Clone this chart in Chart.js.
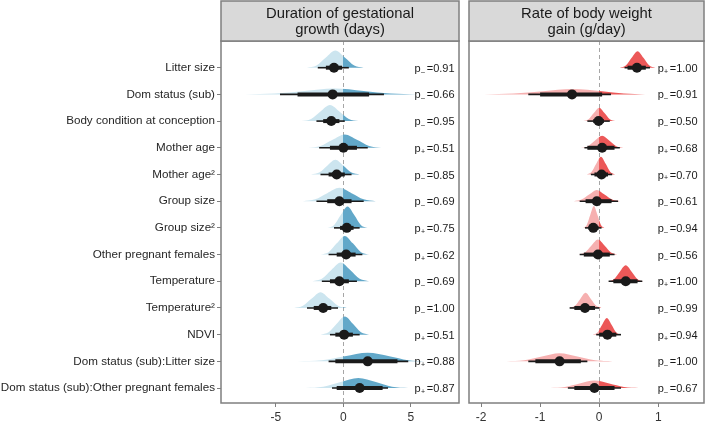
<!DOCTYPE html>
<html lang="en">
<head>
  <meta charset="UTF-8" />
  <title>Posterior effects on gestation and weight gain</title>
  <script src="https://cdn.jsdelivr.net/npm/chart.js"></script>
  <style>
    html, body { margin: 0; padding: 0; background: #fff; }
    #wrap { position: relative; width: 709px; height: 424px; overflow: hidden; }
    #leftChart { position: absolute; left: 0; top: 0; }
    #rightChart { position: absolute; left: 464px; top: 0; }
  </style>
</head>
<body>
  <div id="wrap">
    <canvas id="leftChart" width="464" height="424"></canvas>
    <canvas id="rightChart" width="245" height="424"></canvas>
  </div>

  <script>
    // row labels, top to bottom
    const categories = [
      'Litter size', 'Dom status (sub)', 'Body condition at conception', 'Mother age',
      'Mother age\u00B2', 'Group size', 'Group size\u00B2', 'Other pregnant females',
      'Temperature', 'Temperature\u00B2', 'NDVI', 'Dom status (sub):Litter size',
      'Dom status (sub):Other pregnant females'
    ];

    // --- Duration of gestational growth (days) ---
    const durTitle = ['Duration of gestational', 'growth (days)'];
    const durTicks = [-5, 0, 5];
    const durMedian = [-0.7, -0.8, -0.9, 0.0, -0.5, -0.3, 0.25, 0.2, -0.3, -1.5, 0.05, 1.8, 1.2];
    const durInner = [[-1.3, -0.1], [-3.4, 1.9], [-1.5, -0.3], [-1.0, 1.0], [-1.1, 0.1], [-1.2, 0.6], [-0.25, 0.75],
                      [-0.5, 0.9], [-1.0, 0.4], [-2.2, -0.9], [-0.6, 0.7], [-0.6, 4.0], [-0.5, 2.9]];
    const durOuter = [[-1.9, 0.4], [-4.7, 3.0], [-2.0, 0.1], [-1.8, 1.8], [-1.7, 0.6], [-2.0, 1.5], [-0.7, 1.2],
                      [-1.1, 1.4], [-1.6, 1.0], [-2.7, -0.4], [-1.0, 1.2], [-1.1, 4.8], [-0.85, 3.3]];
    // slab outlines: [x, height in row units]
    const durSlabs = [
      [[-2.7, 0], [-2.0, 0.08], [-1.3, 0.38], [-0.6, 0.64], [0.1, 0.38], [0.8, 0.08], [1.5, 0]],
      [[-7.3, 0], [-5.1, 0.03], [-2.9, 0.13], [-0.7, 0.22], [1.5, 0.13], [3.5, 0.03], [5.4, 0]],
      [[-3.1, 0], [-2.4, 0.08], [-1.7, 0.36], [-1.0, 0.6], [-0.3, 0.36], [0.4, 0.08], [1.1, 0]],
      [[-2.6, 0], [-1.7, 0.07], [-0.8, 0.3], [0.1, 0.5], [1.0, 0.3], [1.9, 0.07], [2.8, 0]],
      [[-2.4, 0], [-1.8, 0.07], [-1.2, 0.33], [-0.6, 0.55], [0.0, 0.33], [0.6, 0.07], [1.2, 0]],
      [[-3.0, 0], [-2.1, 0.07], [-1.2, 0.3], [-0.3, 0.5], [0.6, 0.3], [1.5, 0.07], [2.4, 0]],
      [[-1.2, 0], [-0.7, 0.1], [-0.2, 0.48], [0.3, 0.8], [0.8, 0.48], [1.3, 0.1], [1.8, 0]],
      [[-1.7, 0], [-1.1, 0.09], [-0.5, 0.42], [0.1, 0.7], [0.7, 0.42], [1.3, 0.09], [1.9, 0]],
      [[-2.3, 0], [-1.6, 0.09], [-0.9, 0.42], [-0.2, 0.7], [0.5, 0.42], [1.2, 0.09], [1.9, 0]],
      [[-3.65, 0], [-3.0, 0.08], [-2.35, 0.35], [-1.7, 0.59], [-1.05, 0.35], [-0.4, 0.08], [0.25, 0]],
      [[-1.7, 0], [-1.1, 0.09], [-0.5, 0.41], [0.1, 0.68], [0.7, 0.41], [1.3, 0.09], [1.9, 0]],
      [[-3.4, 0], [-1.6, 0.04], [0.1, 0.19], [1.8, 0.32], [3.4, 0.19], [4.8, 0.04], [6.0, 0]],
      [[-2.8, 0], [-1.5, 0.05], [-0.2, 0.23], [1.1, 0.38], [2.4, 0.23], [3.6, 0.05], [4.8, 0]]
    ];
    const durPSign = ['-', '-', '-', '+', '-', '-', '+', '+', '-', '-', '+', '+', '+'];
    const durPValue = ['0.91', '0.66', '0.95', '0.51', '0.85', '0.69', '0.75', '0.62', '0.69', '1.00', '0.51', '0.88', '0.87'];

    // --- Rate of body weight gain (g/day) ---
    const wgtTitle = ['Rate of body weight', 'gain (g/day)'];
    const wgtTicks = [-2, -1, 0, 1];
    const wgtMedian = [0.64, -0.46, -0.01, 0.05, 0.04, -0.04, -0.1, -0.02, 0.45, -0.24, 0.14, -0.67, -0.08];
    const wgtInner = [[0.48, 0.79], [-1.0, 0.05], [-0.1, 0.08], [-0.2, 0.26], [-0.08, 0.15], [-0.23, 0.21], [-0.18, -0.01],
                      [-0.26, 0.18], [0.24, 0.65], [-0.42, -0.07], [0.0, 0.29], [-1.08, -0.31], [-0.42, 0.26]];
    const wgtOuter = [[0.43, 0.86], [-1.2, 0.2], [-0.2, 0.18], [-0.25, 0.35], [-0.14, 0.22], [-0.33, 0.32], [-0.24, 0.04],
                      [-0.33, 0.26], [0.16, 0.73], [-0.5, 0.0], [-0.05, 0.37], [-1.2, -0.2], [-0.53, 0.37]];
    const wgtSlabs = [
      [[0.35, 0], [0.45, 0.08], [0.55, 0.37], [0.65, 0.62], [0.75, 0.37], [0.85, 0.08], [0.95, 0]],
      [[-1.95, 0], [-1.45, 0.03], [-0.95, 0.12], [-0.45, 0.2], [0.05, 0.12], [0.42, 0.03], [0.78, 0]],
      [[-0.27, 0], [-0.18, 0.07], [-0.09, 0.3], [0.0, 0.5], [0.09, 0.3], [0.18, 0.07], [0.27, 0]],
      [[-0.31, 0], [-0.19, 0.06], [-0.07, 0.27], [0.05, 0.45], [0.17, 0.27], [0.29, 0.06], [0.41, 0]],
      [[-0.21, 0], [-0.13, 0.09], [-0.05, 0.4], [0.03, 0.66], [0.11, 0.4], [0.19, 0.09], [0.27, 0]],
      [[-0.43, 0], [-0.30, 0.06], [-0.17, 0.25], [-0.04, 0.42], [0.09, 0.25], [0.22, 0.06], [0.35, 0]],
      [[-0.27, 0], [-0.21, 0.11], [-0.15, 0.49], [-0.09, 0.82], [-0.03, 0.49], [0.03, 0.11], [0.09, 0]],
      [[-0.35, 0], [-0.24, 0.08], [-0.13, 0.34], [-0.02, 0.56], [0.09, 0.34], [0.20, 0.08], [0.31, 0]],
      [[0.15, 0], [0.25, 0.08], [0.35, 0.36], [0.45, 0.6], [0.55, 0.36], [0.65, 0.08], [0.75, 0]],
      [[-0.5, 0], [-0.41, 0.08], [-0.32, 0.34], [-0.23, 0.57], [-0.14, 0.34], [-0.05, 0.08], [0.04, 0]],
      [[-0.11, 0], [-0.03, 0.08], [0.05, 0.37], [0.13, 0.62], [0.21, 0.37], [0.29, 0.08], [0.37, 0]],
      [[-1.57, 0], [-1.27, 0.04], [-0.97, 0.18], [-0.67, 0.3], [-0.37, 0.18], [-0.07, 0.04], [0.23, 0]],
      [[-0.83, 0], [-0.58, 0.04], [-0.33, 0.17], [-0.08, 0.28], [0.17, 0.17], [0.42, 0.04], [0.67, 0]]
    ];
    const wgtPSign = ['+', '-', '-', '+', '+', '-', '-', '-', '+', '-', '+', '-', '-'];
    const wgtPValue = ['1.00', '0.91', '0.50', '0.68', '0.70', '0.61', '0.94', '0.56', '1.00', '0.99', '0.94', '1.00', '0.67'];

    const FONT = "'Liberation Sans', Arial, sans-serif";
    const INK = '#1a1a1a';
    const FRAME = '#7f7f7f';

    // strip on top, dashed zero line, panel border, p labels
    const panelDecor = {
      id: 'panelDecor',
      beforeDatasetsDraw(chart, args, opts) {
        const { ctx, chartArea: a, scales: { x } } = chart;
        const zx = Math.round(x.getPixelForValue(0)) + 0.5;
        ctx.save();
        ctx.strokeStyle = '#a6a6a6';
        ctx.lineWidth = 1;
        ctx.setLineDash([4, 3]);
        ctx.beginPath();
        ctx.moveTo(zx, a.top);
        ctx.lineTo(zx, a.bottom);
        ctx.stroke();
        ctx.restore();
      },
      afterDatasetsDraw(chart, args, opts) {
        const { ctx, chartArea: a, scales: { x, y } } = chart;
        ctx.save();
        // p labels
        ctx.fillStyle = INK;
        ctx.textBaseline = 'middle';
        ctx.textAlign = 'left';
        opts.pValue.forEach((v, i) => {
          const px = x.getPixelForValue(opts.pAt);
          const py = y.getPixelForValue(i + 1) + 1;
          ctx.font = '11px ' + FONT;
          ctx.fillText('p', px, py);
          const pw = ctx.measureText('p').width;
          ctx.font = '7px ' + FONT;
          ctx.fillText(opts.pSign[i] === '+' ? '+' : '\u2013', px + pw + 0.3, py + 3);
          ctx.font = '11px ' + FONT;
          ctx.fillText('=' + v, px + pw + 6, py);
        });
        // panel frame
        ctx.strokeStyle = FRAME;
        ctx.lineWidth = 1.5;
        ctx.strokeRect(a.left, a.top, a.right - a.left, a.bottom - a.top);
        // strip
        ctx.fillStyle = '#d9d9d9';
        ctx.fillRect(a.left, 1, a.right - a.left, a.top - 1);
        ctx.strokeRect(a.left, 1, a.right - a.left, a.top - 1);
        ctx.fillStyle = INK;
        ctx.textAlign = 'center';
        ctx.font = '14.8px ' + FONT;
        const cx = (a.left + a.right) / 2;
        ctx.fillText(opts.title[0], cx, 14);
        ctx.fillText(opts.title[1], cx, 30);
        ctx.restore();
      }
    };

    function makePanel(id, cfg) {
      let grad = null;
      const slabFill = (c) => {
        const chart = c.chart;
        const a = chart.chartArea;
        if (!a || !chart.scales.x) return cfg.light;
        if (grad) return grad;
        const f = (chart.scales.x.getPixelForValue(0) - a.left) / (a.right - a.left);
        grad = chart.ctx.createLinearGradient(a.left, 0, a.right, 0);
        grad.addColorStop(0, cfg.light);
        grad.addColorStop(f, cfg.light);
        grad.addColorStop(f, cfg.dark);
        grad.addColorStop(1, cfg.dark);
        return grad;
      };

      // higher order is drawn first (underneath)
      const datasets = [];
      cfg.slabs.forEach((pts, i) => {
        const row = i + 1;
        datasets.push({
          order: 3,
          data: pts.map(p => ({ x: p[0], y: row - p[1] })),
          fill: { value: row },
          backgroundColor: slabFill,
          borderWidth: 0,
          pointRadius: 0,
          cubicInterpolationMode: 'monotone'
        });
      });
      cfg.outer.forEach((r, i) => {
        datasets.push({
          order: 2,
          data: [{ x: r[0], y: i + 1 }, { x: r[1], y: i + 1 }],
          borderColor: INK, borderWidth: 1.6, pointRadius: 0, fill: false
        });
      });
      cfg.inner.forEach((r, i) => {
        datasets.push({
          order: 1,
          data: [{ x: r[0], y: i + 1 }, { x: r[1], y: i + 1 }],
          borderColor: INK, borderWidth: 4, pointRadius: 0, fill: false
        });
      });
      datasets.push({
        order: 0,
        data: cfg.median.map((m, i) => ({ x: m, y: i + 1 })),
        showLine: false,
        pointRadius: 5,
        pointBackgroundColor: INK,
        pointBorderColor: INK,
        pointBorderWidth: 0
      });

      const yScale = {
        type: 'linear',
        display: cfg.showY,
        reverse: true,
        min: 0,
        max: 13.56,
        afterBuildTicks: s => { s.ticks = categories.map((c, i) => ({ value: i + 1 })); },
        border: { display: false },
        grid: { drawOnChartArea: false, drawTicks: true, tickLength: 4, tickColor: FRAME },
        ticks: {
          color: '#262626',
          font: { size: 11.65, family: FONT },
          padding: 2,
          autoSkip: false,
          callback: v => categories[v - 1]
        }
      };
      if (cfg.showY) yScale.afterFit = s => { s.width = 221; };

      return new Chart(document.getElementById(id), {
        type: 'line',
        data: { datasets },
        plugins: [panelDecor],
        options: {
          responsive: false,
          animation: false,
          layout: { padding: cfg.padding },
          plugins: {
            legend: { display: false },
            tooltip: { enabled: false },
            panelDecor: { title: cfg.title, pValue: cfg.pValue, pSign: cfg.pSign, pAt: cfg.pAt }
          },
          scales: {
            x: {
              type: 'linear',
              min: cfg.xMin,
              max: cfg.xMax,
              afterBuildTicks: s => { s.ticks = cfg.ticks.map(v => ({ value: v })); },
              afterFit: s => { s.height = 21; },
              border: { display: false },
              grid: { drawOnChartArea: false, drawTicks: true, tickLength: 4, tickColor: FRAME, lineWidth: 1 },
              ticks: { color: '#333333', font: { size: 12, family: FONT }, padding: 3, maxRotation: 0 }
            },
            y: yScale
          }
        }
      });
    }

    makePanel('leftChart', {
      title: durTitle, ticks: durTicks, median: durMedian, inner: durInner, outer: durOuter,
      slabs: durSlabs, pSign: durPSign, pValue: durPValue, pAt: 5.27,
      xMin: -9.07, xMax: 8.56, showY: true,
      padding: { top: 41, right: 2, left: 0, bottom: 0 },
      light: '#cce5ef', dark: '#62a8c9'
    });

    makePanel('rightChart', {
      title: wgtTitle, ticks: wgtTicks, median: wgtMedian, inner: wgtInner, outer: wgtOuter,
      slabs: wgtSlabs, pSign: wgtPSign, pValue: wgtPValue, pAt: 0.99,
      xMin: -2.204, xMax: 1.775, showY: false,
      padding: { top: 41, right: 1, left: 3, bottom: 0 },
      light: '#f6b0b0', dark: '#ec5858'
    });
  </script>
</body>
</html>
